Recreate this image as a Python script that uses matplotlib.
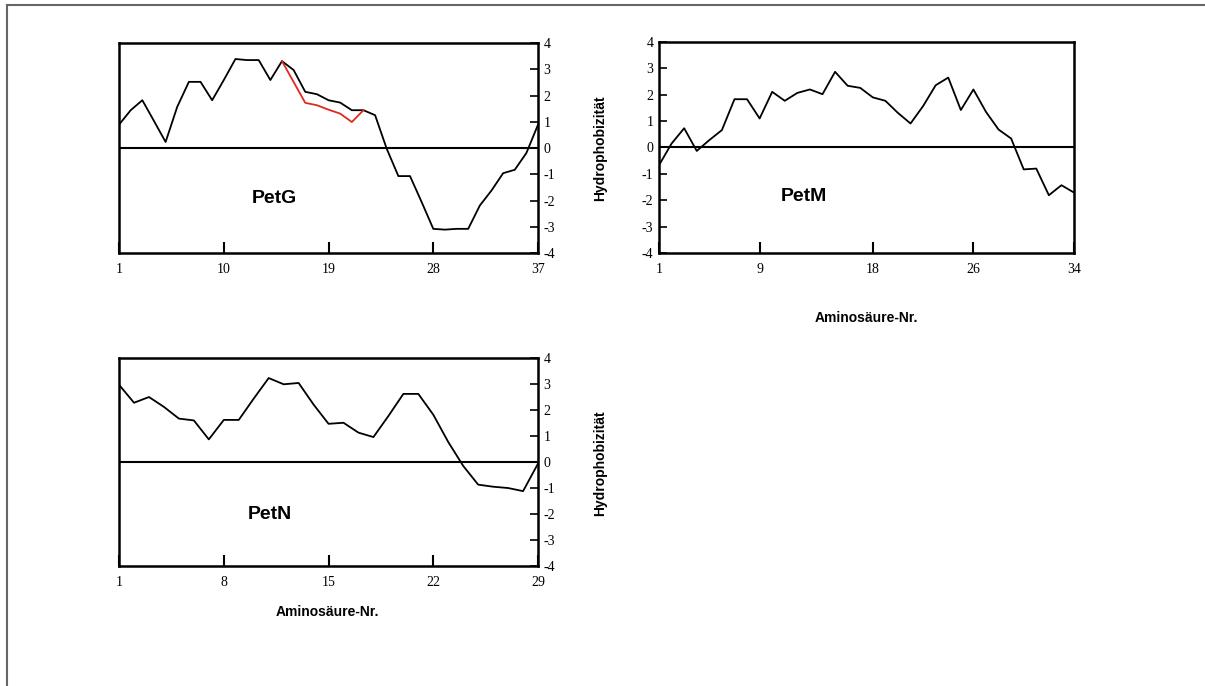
import matplotlib
matplotlib.use("Agg")
import matplotlib.pyplot as plt
from matplotlib.lines import Line2D

# hydrophobicity values per residue
petg_x = list(range(1, 38))
petg_y = [0.89, 1.44, 1.82, 1.03, 0.23, 1.57, 2.52, 2.52, 1.82, 2.59,
          3.39, 3.35, 3.35, 2.59, 3.31, 2.97, 2.14, 2.05, 1.82, 1.73,
          1.44, 1.44, 1.25, -0.03, -1.07, -1.07, -2.06, -3.08, -3.11, -3.08,
          -3.08, -2.19, -1.62, -0.96, -0.83, -0.19, 0.89]
# red variant (PetG section 15-22)
petg_red_x = [15, 17, 18, 19, 20, 21, 22]
petg_red_y = [3.31, 1.72, 1.63, 1.46, 1.31, 0.99, 1.44]

petm_x = list(range(1, 35))
petm_y = [-0.67, 0.15, 0.73, -0.13, 0.28, 0.66, 1.83, 1.83, 1.10, 2.11,
          1.77, 2.07, 2.20, 2.02, 2.87, 2.34, 2.26, 1.90, 1.77, 1.31,
          0.91, 1.57, 2.36, 2.65, 1.42, 2.20, 1.35, 0.68, 0.34, -0.83,
          -0.80, -1.81, -1.43, -1.71]

petn_x = list(range(1, 30))
petn_y = [2.97, 2.28, 2.50, 2.12, 1.67, 1.60, 0.87, 1.62, 1.62, 2.44,
          3.23, 2.99, 3.04, 2.21, 1.47, 1.51, 1.13, 0.96, 1.77, 2.62,
          2.62, 1.82, 0.77, -0.15, -0.87, -0.95, -1.00, -1.12, -0.06]

petg_xticks = [1, 10, 19, 28, 37]
petm_xticks = [1, 9, 18, 26, 34]
petn_xticks = [1, 8, 15, 22, 29]
yticks = [-4, -3, -2, -1, 0, 1, 2, 3, 4]

serif = "Liberation Serif"
sans = "Liberation Sans"

fig = plt.figure(figsize=(12.05, 6.86), dpi=100)


def setup_axes(ax, x, y, xticks, yside, name, name_pos):
    ax.plot(x, y, color="black", lw=1.3)
    ax.axhline(0, color="black", lw=1.5)
    ax.set_xlim(xticks[0], xticks[-1])
    ax.set_ylim(-4, 4)
    ax.set_xticks(xticks)
    ax.set_xticklabels([str(t) for t in xticks], fontfamily=serif, fontsize=10)
    ax.set_yticks(yticks)
    ax.set_yticklabels([str(t) for t in yticks], fontfamily=serif, fontsize=10)
    ax.tick_params(axis="x", direction="in", length=8, width=1.5, pad=7)
    if yside == "right":
        ax.yaxis.tick_right()
    ax.tick_params(axis="y", direction="in", length=6, width=1.2, pad=4)
    for s in ax.spines.values():
        s.set_linewidth(1.8)
    ax.text(name_pos[0], name_pos[1], name, fontfamily=sans, fontweight="bold",
            fontsize=14, ha="center", va="center", transform=ax.transAxes)


# PetG (top left)
ax1 = fig.add_axes([0.0988, 0.6312, 0.3477, 0.3061])
setup_axes(ax1, petg_x, petg_y, petg_xticks, "right", "PetG", (0.37, 0.26))
ax1.plot(petg_red_x, petg_red_y, color="#e0281e", lw=1.3)

# PetM (top right)
ax2 = fig.add_axes([0.5469, 0.6312, 0.3444, 0.3076])
setup_axes(ax2, petm_x, petm_y, petm_xticks, "left", "PetM", (0.35, 0.27))

# PetN (bottom left)
ax3 = fig.add_axes([0.0988, 0.1749, 0.3477, 0.3032])
setup_axes(ax3, petn_x, petn_y, petn_xticks, "right", "PetN", (0.36, 0.25))

# axis titles
fig.text(600 / 1205, 1 - 148 / 686, "Hydrophobizität", rotation=90, fontfamily=sans,
         fontweight="bold", fontsize=10, ha="center", va="center")
fig.text(866 / 1205, 1 - 318 / 686, "Aminosäure-Nr.", fontfamily=sans,
         fontweight="bold", fontsize=10, ha="center", va="center")
fig.text(600 / 1205, 1 - 463 / 686, "Hydrophobizität", rotation=90, fontfamily=sans,
         fontweight="bold", fontsize=10, ha="center", va="center")
fig.text(327 / 1205, 1 - 612 / 686, "Aminosäure-Nr.", fontfamily=sans,
         fontweight="bold", fontsize=10, ha="center", va="center")

# grey frame around the page (left and top edge visible)
fx = 7 / 1205
fy = 1 - 5 / 686
fig.add_artist(Line2D([fx, fx], [0, fy], transform=fig.transFigure, color="#666666", lw=1.5))
fig.add_artist(Line2D([fx, 1], [fy, fy], transform=fig.transFigure, color="#666666", lw=1.5))

fig.savefig("out.png", dpi=100)
